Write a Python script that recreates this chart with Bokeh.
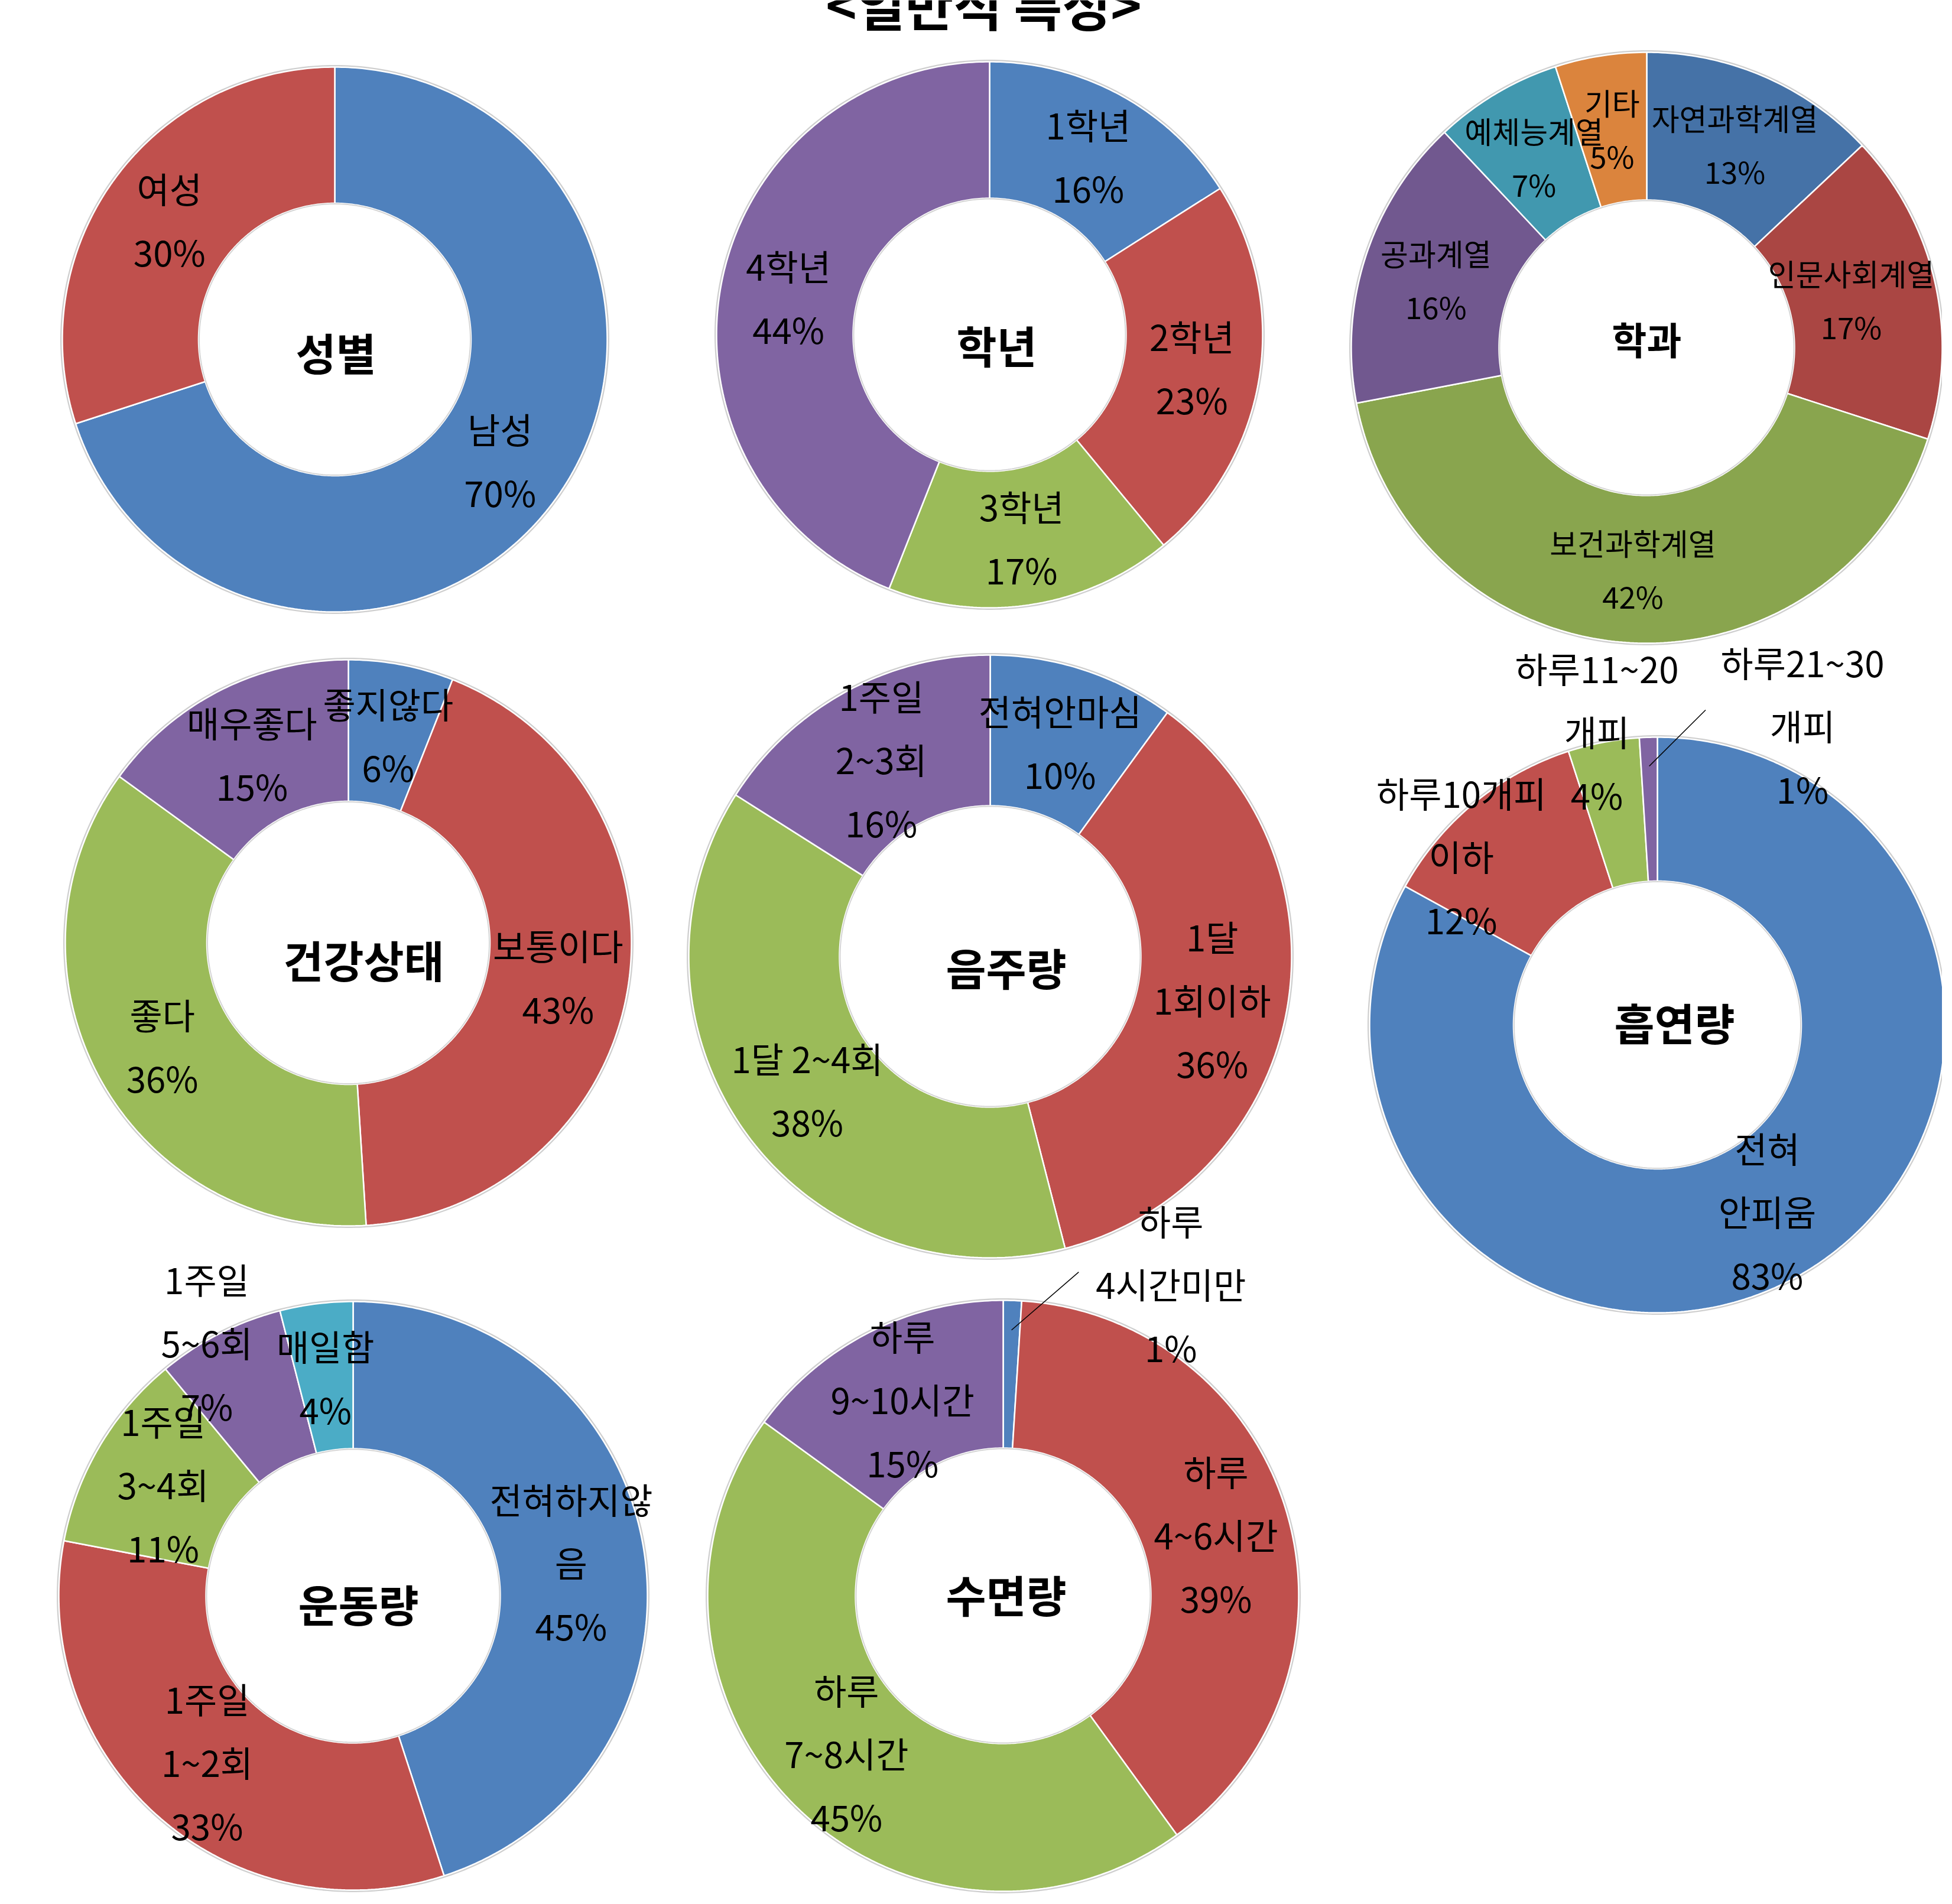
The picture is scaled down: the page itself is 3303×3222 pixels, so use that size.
import numpy as np
from bokeh.plotting import figure
from bokeh.models import Range1d
from bokeh.embed import file_html
from bokeh.resources import INLINE
from bokeh.core.properties import value

# ---------------- data ----------------
title_text = "<일반적 특성>"

chart_titles = ["성별", "학년", "학과", "건강상태", "음주량", "흡연량", "운동량", "수면량"]

gender_labels = ["남성", "여성"]
gender_values = [70, 30]

grade_labels = ["1학년", "2학년", "3학년", "4학년"]
grade_values = [16, 23, 17, 44]

major_labels = ["자연과학계열", "인문사회계열", "보건과학계열", "공과계열", "예체능계열", "기타"]
major_values = [13, 17, 42, 16, 7, 5]

health_labels = ["좋지않다", "보통이다", "좋다", "매우좋다"]
health_values = [6, 43, 36, 15]

drink_labels = ["전혀안마심", "1달\n1회이하", "1달 2~4회", "1주일\n2~3회"]
drink_values = [10, 36, 38, 16]

smoke_labels = ["전혀\n안피움", "하루10개피\n이하", "하루11~20\n개피", "하루21~30\n개피"]
smoke_values = [83, 12, 4, 1]

exercise_labels = ["전혀하지않\n음", "1주일\n1~2회", "1주일\n3~4회", "1주일\n5~6회", "매일함"]
exercise_values = [45, 33, 11, 7, 4]

sleep_labels = ["하루\n4시간미만", "하루\n4~6시간", "하루\n7~8시간", "하루\n9~10시간"]
sleep_values = [1, 39, 45, 15]

# ---------------- styles / layout ----------------
STD = ["#4F81BD", "#C0504D", "#9BBB59", "#8064A2", "#4BACC6", "#F79646"]
DARK = ["#4572A7", "#AA4643", "#89A54E", "#71588F", "#4198AF", "#DB843D"]
FONT = value("Noto Sans CJK KR")

W, H = 3286, 3205
p = figure(width=W, height=H, x_range=Range1d(0, W), y_range=Range1d(H, 0),
           output_backend="svg", toolbar_location=None, min_border=0,
           x_axis_type=None, y_axis_type=None)
p.xgrid.visible = False
p.ygrid.visible = False
p.outline_line_color = None
p.background_fill_color = "white"
p.border_fill_color = "white"


def donut(values, labels, title, colors, cx, cy, R, lab_size=60, lab_lh=107,
          title_size=74, title_off=(0, 0), moved=None, leaders=None):
    moved = moved or {}
    leaders = leaders or {}
    vals = np.asarray(values, dtype=float)
    frac = np.concatenate([[0.0], np.cumsum(vals)]) / vals.sum()
    # soft outline around the ring
    t = np.linspace(0, 2 * np.pi, 400)
    p.line(cx + (R + 2) * np.sin(t), cy - (R + 2) * np.cos(t), line_color="#cfcfcf", line_width=3)
    xs, ys = [], []
    for a0, a1 in zip(frac[:-1], frac[1:]):
        n = max(6, int((a1 - a0) * 500))
        tt = np.linspace(a0, a1, n) * 2 * np.pi
        ox, oy = cx + R * np.sin(tt), cy - R * np.cos(tt)
        ix, iy = cx + 0.5 * R * np.sin(tt[::-1]), cy - 0.5 * R * np.cos(tt[::-1])
        xs.append(np.concatenate([ox, ix]).tolist())
        ys.append(np.concatenate([oy, iy]).tolist())
    p.patches(xs, ys, fill_color=colors[:len(values)], line_color="white", line_width=2.5)
    p.line(cx + (0.5 * R - 1) * np.sin(t), cy - (0.5 * R - 1) * np.cos(t), line_color="#d5d5d5", line_width=2)

    tx, ty, tt_ = [], [], []
    for i, (lab, v) in enumerate(zip(labels, values)):
        mid = (frac[i] + frac[i + 1]) / 2 * 2 * np.pi
        bx = cx + 0.75 * R * np.sin(mid)
        by = cy - 0.75 * R * np.cos(mid)
        dx, dy = moved.get(i, (0, 0))
        bx += dx
        by += dy
        lines = lab.split("\n") + [f"{v}%"]
        nl = len(lines)
        for k, ln in enumerate(lines):
            tx.append(bx)
            ty.append(by + (k - (nl - 1) / 2) * lab_lh)
            tt_.append(ln)
        if i in leaders:
            lx, ly = leaders[i]
            ex, ey = cx + 0.9 * R * np.sin(mid), cy - 0.9 * R * np.cos(mid)
            p.line([bx + lx, ex], [by + ly, ey], line_color="black", line_width=1.5)
    p.text(x=tx, y=ty, text=tt_, text_font=FONT, text_font_size=f"{lab_size}px",
           text_align="center", text_baseline="middle", text_color="black")
    p.text(x=[cx + title_off[0]], y=[cy + title_off[1]], text=[title], text_font=FONT,
           text_font_size=f"{title_size}px", text_font_style="bold",
           text_align="center", text_baseline="middle", text_color="black")


donut(gender_values, gender_labels, chart_titles[0], STD, 566, 574, 461, title_off=(2, 20))
donut(grade_values, grade_labels, chart_titles[1], STD, 1674, 566, 462, title_off=(12, 16))
donut(major_values, major_labels, chart_titles[2], DARK, 2786, 588, 500,
      lab_size=51, lab_lh=90, title_size=64, title_off=(0, -17), moved={1: (-20, 0)})
donut(health_values, health_labels, chart_titles[3], STD, 589, 1595, 479, title_off=(26, 27))
donut(drink_values, drink_labels, chart_titles[4], STD, 1675, 1618, 510, title_off=(27, 17))
donut(smoke_values, smoke_labels, chart_titles[5], STD, 2804, 1734, 487, title_off=(29, -6),
      moved={1: (-99, -6), 2: (-34, -139), 3: (257, -143)},
      leaders={3: (-164, -25)})
donut(exercise_values, exercise_labels, chart_titles[6], STD, 597, 2700, 498, title_off=(9, 12),
      moved={3: (-78, -97)})
donut(sleep_values, sleep_labels, chart_titles[7], STD, 1697, 2700, 500, title_off=(5, -4),
      moved={0: (272, -154)}, leaders={0: (-156, -19)})

p.text(x=[1664], y=[5], text=[title_text], text_font=FONT, text_font_size="89px",
       text_font_style="bold", text_align="center", text_baseline="alphabetic", text_color="black")

open("out.html", "w").write(file_html(p, INLINE))
